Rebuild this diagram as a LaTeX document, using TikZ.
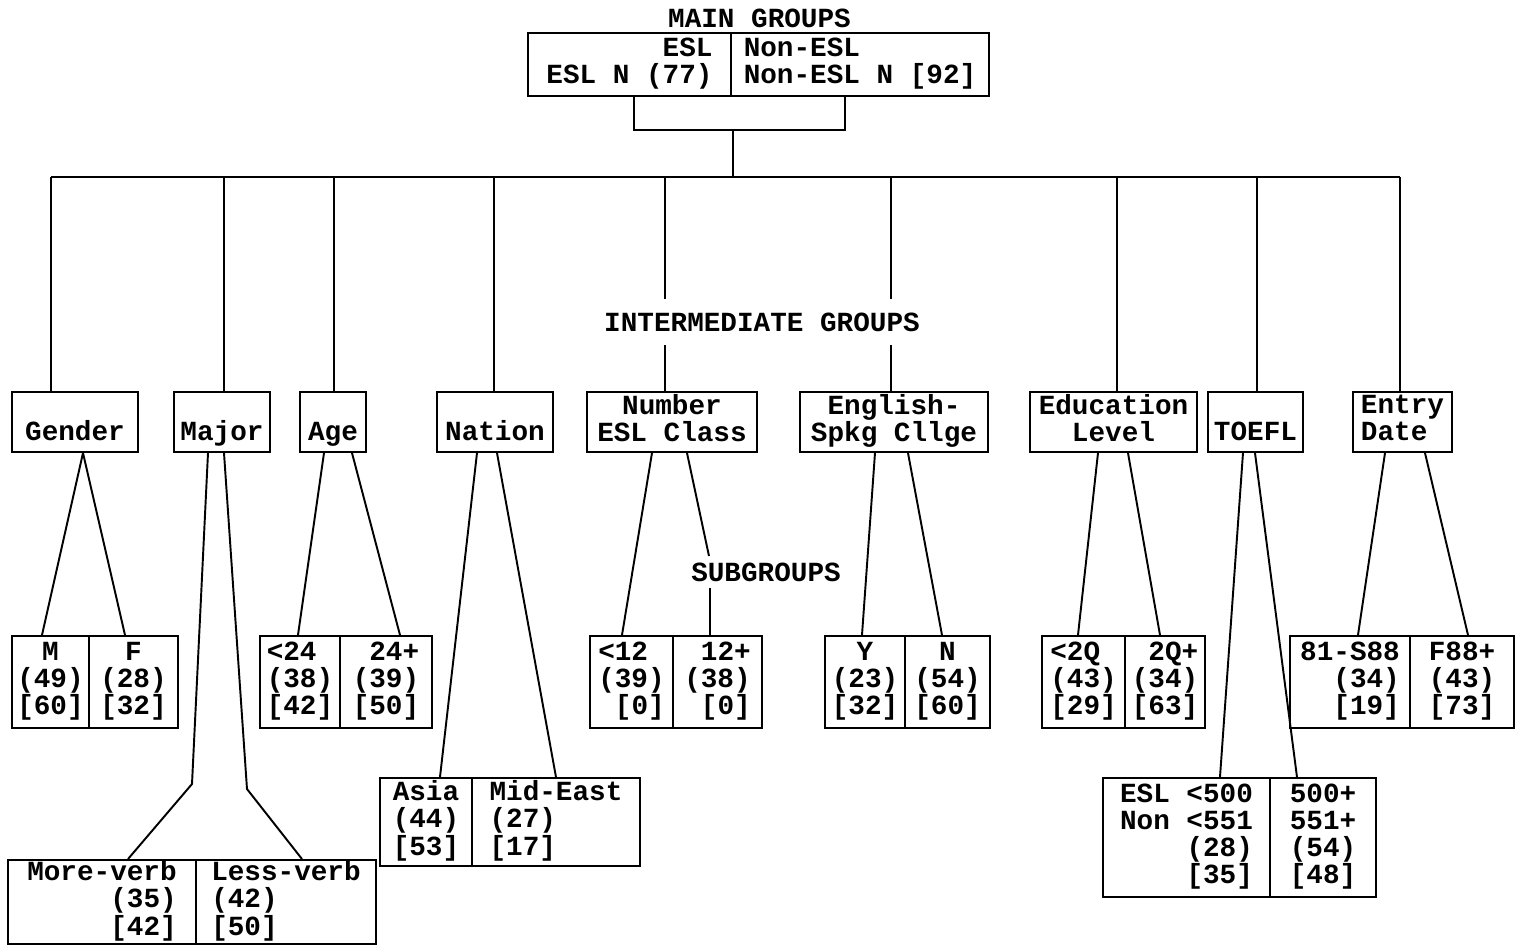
\documentclass[tikz,border=0pt]{standalone}
\usepackage{fontspec}
\newfontfamily\typew{Liberation Mono}
\usetikzlibrary{positioning,calc}

\begin{document}
\begin{tikzpicture}[x=0.02cm,y=-0.02cm,
  font=\typew\bfseries\fontsize{15.75}{15.4}\selectfont,
  line width=1.1pt,
  cell/.style={draw,inner sep=0pt,align=center,
               execute at begin node=\strut,execute at end node=\strut},
  grp/.style={cell,minimum height=1.2cm},
  sub/.style={cell,minimum height=1.84cm},
  lbl/.style={inner sep=0pt}]
\useasboundingbox (0,0) rectangle (1516,948);

% main groups
\node[lbl] (mainlab) at (759.5,18) {MAIN GROUPS};
\node[cell,align=right,minimum width=4.06cm,minimum height=1.26cm] (mesl)
  at (629.5,64.5) {ESL\\ESL N (77)};
\node[cell,align=left,minimum width=5.16cm,minimum height=1.26cm] (mnon)
  at (860,64.5) {Non-ESL\\Non-ESL N {}[92]};

\coordinate (brl) at (634,130);
\coordinate (brr) at (845,130);
\coordinate (stem) at (733,130);
\coordinate (bus) at (733,177);
\draw (mesl.south -| brl) -- (brl) -- (brr) -- (mnon.south -| brr);
\draw (stem) -- (bus);

% intermediate groups
\node[grp,minimum width=2.52cm] (gender)  at (75,422)    {\phantom{G}\\Gender};
\node[grp,minimum width=1.92cm] (major)   at (222,422)   {\phantom{M}\\Major};
\node[grp,minimum width=1.32cm] (age)     at (333,422)   {\phantom{A}\\Age};
\node[grp,minimum width=2.32cm] (nation)  at (495,422)   {\phantom{N}\\Nation};
\node[grp,minimum width=3.40cm] (number)  at (672,422)   {Number\\ESL Class};
\node[grp,minimum width=3.76cm] (english) at (894,422)   {English-\\Spkg Cllge};
\node[grp,minimum width=3.34cm] (educ)    at (1113.5,422){Education\\Level};
\node[grp,minimum width=1.90cm] (toefl)   at (1255.5,422){\phantom{T}\\TOEFL};
\node[grp,align=left,minimum width=1.98cm] (entry) at (1402.5,422){Entry\\Date};

\node[lbl,minimum height=0.9cm] (intlab) at (762,322) {INTERMEDIATE GROUPS};

\foreach \n/\x in {1/51,2/224,3/334,4/494,5/665,6/891,7/1117,8/1257,9/1400}
  \coordinate (t\n) at (\x,177);
\draw (t1) -- (t9);
\foreach \t/\g in {t1/gender,t2/major,t3/age,t4/nation,t7/educ,t8/toefl,t9/entry}
  \draw (\t) -- (\t |- \g.north);
\foreach \t/\g in {t5/number,t6/english}{
  \draw (\t) -- (\t |- intlab.north);
  \draw (\t |- intlab.south) -- (\t |- \g.north);
}

% subgroups
\node[sub,minimum width=1.54cm] (gm) at (50.5,682) {M\\(49)\\{}[60]};
\node[sub,minimum width=1.78cm] (gf) at (133.5,682) {F\\(28)\\{}[32]};
\node[sub,align=left,minimum width=1.60cm] (ageyoung) at (300,682) {<24\\(38)\\{}[42]};
\node[sub,align=right,minimum width=1.84cm] (ageold) at (386,682) {24+\\(39)\\{}[50]};
\node[sub,align=right,minimum width=1.66cm] (nclo) at (631.5,682) {<12\hphantom{0}\\(39)\\{}[0]};
\node[sub,align=right,minimum width=1.78cm] (nchi) at (717.5,682) {12+\\(38)\\{}[0]};
\node[sub,minimum width=1.60cm] (spky) at (865,682) {Y\\(23)\\{}[32]};
\node[sub,minimum width=1.70cm] (spkn) at (947.5,682) {N\\(54)\\{}[60]};
\node[sub,align=left,minimum width=1.66cm] (edlo) at (1083.5,682) {<2Q\\(43)\\{}[29]};
\node[sub,align=right,minimum width=1.60cm] (edhi) at (1165,682) {2Q+\\(34)\\{}[63]};
\node[sub,align=right,minimum width=2.40cm] (enlo) at (1350,682) {81-S88\\(34)\\{}[19]};
\node[sub,align=right,minimum width=2.08cm] (enhi) at (1462,682) {F88+\\(43)\\{}[73]};

\node[cell,align=right,minimum width=3.76cm,minimum height=1.68cm] (mjmore)
  at (102,902) {More-verb\\\hphantom{00000}(35)\\\hphantom{00000}[42]};
\node[cell,align=left,minimum width=3.60cm,minimum height=1.68cm] (mjless)
  at (286,902) {Less-verb\\(42)\\{}[50]};
\node[cell,align=left,minimum width=1.84cm,minimum height=1.76cm] (asia)
  at (426,822) {Asia\\(44)\\{}[53]};
\node[cell,align=left,minimum width=3.36cm,minimum height=1.76cm] (mideast)
  at (556,822) {Mid-East\\(27)\\{}[17]};
\node[cell,align=right,minimum width=3.34cm,minimum height=2.38cm] (tflo)
  at (1186.5,837.5) {ESL <500\\Non <551\\(28)\\{}[35]};
\node[cell,align=right,minimum width=2.12cm,minimum height=2.38cm] (tfhi)
  at (1323,837.5) {500+\\551+\\(54)\\{}[48]};

\node[lbl,minimum height=0.6cm] (sublab) at (766,572) {SUBGROUPS};

% branches
\foreach \a/\xa/\b/\xb in {gender/83/gm/42,gender/83/gf/125,
    age/324/ageyoung/298,age/352/ageold/400,nation/477/asia/440,
    nation/497/mideast/556,number/652/nclo/622,english/875/spky/862,
    english/908/spkn/942,educ/1098/edlo/1078,educ/1128/edhi/1160,
    toefl/1243/tflo/1220,toefl/1255/tfhi/1297,entry/1385/enlo/1358,
    entry/1425/enhi/1468}
  \draw (\xa,0 |- \a.south) -- (\xb,0 |- \b.north);
\draw (687,0 |- number.south) -- (709,0 |- sublab.north);
\draw (710,0 |- sublab.south) -- (710,0 |- nchi.north);

\coordinate (mjkl) at (192,784);
\coordinate (mjkr) at (247,789);
\draw (208,0 |- major.south) -- (mjkl) -- (128,0 |- mjmore.north);
\draw (224,0 |- major.south) -- (mjkr) -- (302,0 |- mjless.north);
\end{tikzpicture}
\end{document}
